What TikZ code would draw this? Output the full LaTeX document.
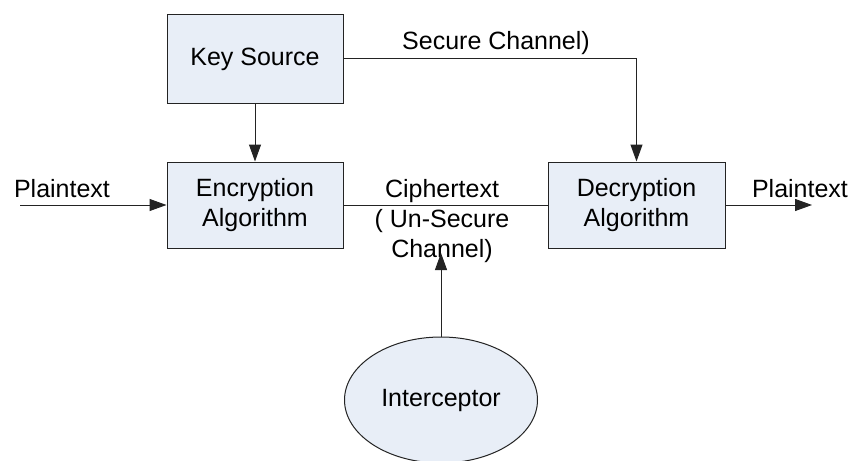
\documentclass[tikz,border=0pt]{standalone}
\usepackage{fontspec}
\setmainfont{Liberation Sans}
\usetikzlibrary{arrows.meta,shapes.geometric}
\definecolor{boxfill}{RGB}{232,238,247}
\definecolor{edgegray}{RGB}{35,35,35}

\tikzset{
  block/.style={draw=edgegray, fill=boxfill, line width=1pt, minimum width=176pt,
    minimum height=86pt, align=center, font=\fontsize{25}{30}\selectfont},
  label/.style={align=center, font=\fontsize{25}{30}\selectfont, inner sep=0pt},
  arr/.style={-{Triangle[length=17pt,width=12pt]}},
}

\begin{document}
\begin{tikzpicture}[x=1pt, y=-1pt, line width=1pt, draw=edgegray]
    \clip (0,0) rectangle (853,460);
    \fill[white] (0,0) rectangle (853,460);
      \node[block, minimum height=88pt] (key) at (255,59) {Key Source};
      \node[block] (enc) at (255,205) {Encryption\\Algorithm};
      \node[block, minimum width=177pt] (dec) at (636.5,205) {Decryption\\Algorithm};
      \node[block, ellipse, minimum width=193pt, minimum height=126pt] (icp) at (441,400) {Interceptor};
      \coordinate (pin) at (20,205);
      \coordinate (pout) at (812,205);
      \coordinate (tap) at (441,253);
      % labels
      \node[label] (inlbl) at (62,189) {Plaintext};
      \node[label] (outlbl) at (800,189) {Plaintext};
      \node[label] (seclbl) at (496,43) {Secure Channel)};
      \node[label] (ciplbl) at (442,221) {Ciphertext\\( Un-Secure\\Channel)};
      % connectors
      \draw[arr] (key) -- (enc);
      \draw[arr] (key.east) -| (dec.north);
      \draw (enc) -- (dec);
      \draw[arr] (pin) -- (enc);
      \draw[arr] (dec) -- (pout);
      \draw[arr] (icp) -- (tap);
    \end{tikzpicture}
\end{document}
